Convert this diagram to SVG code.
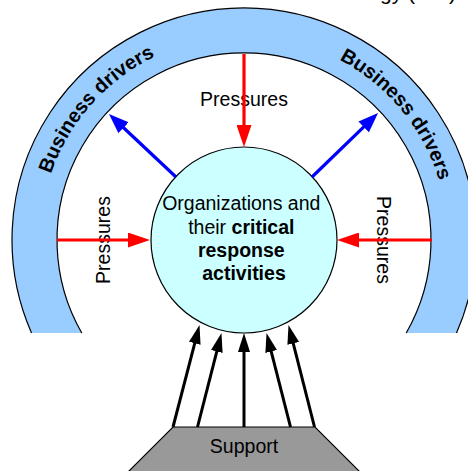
<svg xmlns="http://www.w3.org/2000/svg" width="468" height="471" viewBox="0 0 468 471">
  <defs>
    <style>
      text { font-family: "Liberation Sans", Arial, sans-serif; fill: #000; }
      .lbl { font-size: 19.5px; }
      .b { font-weight: bold; }
      .ring-lbl { font-size: 20px; font-weight: bold; }
      .red { stroke: #FF0000; stroke-width: 3.2; fill: none; }
      .blue { stroke: #0000FF; stroke-width: 3.2; fill: none; }
      .blk { stroke: #000; stroke-width: 3; fill: none; }
      .edge { stroke: #000; stroke-width: 1.2; fill: none; }
    </style>
    <marker id="headRed" markerUnits="userSpaceOnUse" markerWidth="22" markerHeight="15" refX="14" refY="7.5" orient="auto">
      <path d="M0,0 L22,7.5 L0,15 z" fill="#FF0000"/>
    </marker>
    <marker id="headBlue" markerUnits="userSpaceOnUse" markerWidth="20" markerHeight="15" refX="12" refY="7.5" orient="auto">
      <path d="M0,0 L20,7.5 L0,15 z" fill="#0000FF"/>
    </marker>
    <marker id="headBlack" markerUnits="userSpaceOnUse" markerWidth="19" markerHeight="12" refX="11" refY="6" orient="auto">
      <path d="M0,0 L19,6 L0,12 z" fill="#000"/>
    </marker>
    <!-- baselines for the curved ring labels (radius 204 about the ring centre) -->
    <path id="arcLeft" d="M50.5,304.7 A204,204 0 0 1 284.7,40.1"/>
    <path id="arcRight" d="M210.3,38.8 A204,204 0 0 1 435.1,311.4"/>
  </defs>

  <rect width="468" height="471" fill="#fff"/>

  <!-- clipped caption at the top edge -->
  <text x="296" y="0" style="font-size:21px">Technology (ICT)</text>

  <!-- outer ring of business drivers -->
  <g id="ring">
    <path d="M31.5,333 A232,232 0 1 1 456.5,333 L406.2,333 A187,187 0 1 0 81.8,333 Z" fill="#99CCFF"/>
    <path class="edge" d="M31.5,333 A232,232 0 1 1 456.5,333"/>
    <path class="edge" d="M406.2,333 A187,187 0 1 0 81.8,333"/>
    <text class="ring-lbl"><textPath href="#arcLeft" startOffset="50%" text-anchor="middle">Business drivers</textPath></text>
    <text class="ring-lbl"><textPath href="#arcRight" startOffset="50%" text-anchor="middle">Business drivers</textPath></text>
  </g>

  <!-- central organisation node -->
  <g id="core">
    <circle cx="244" cy="240" r="93" fill="#CCFFFF" stroke="#000" stroke-width="1.2"/>
    <text class="lbl" text-anchor="middle">
      <tspan x="244" y="210">Organizations and</tspan>
      <tspan x="244" y="234">their <tspan class="b">critical</tspan></tspan>
      <tspan x="244" y="257" class="b">response</tspan>
      <tspan x="244" y="280" class="b">activities</tspan>
    </text>
  </g>

  <!-- support base -->
  <g id="support">
    <path d="M173,427 L315,427 L363,475 L125,475 Z" fill="#999999" stroke="#000" stroke-width="1.2"/>
    <text class="lbl" x="244" y="453" text-anchor="middle">Support</text>
  </g>

  <!-- pressure labels -->
  <g id="pressure-labels">
    <text class="lbl" x="244" y="106" text-anchor="middle">Pressures</text>
    <text class="lbl" text-anchor="middle" transform="translate(110,240) rotate(-90)">Pressures</text>
    <text class="lbl" text-anchor="middle" transform="translate(377,240) rotate(90)">Pressures</text>
  </g>

  <!-- connectors -->
  <g id="connectors">
    <line class="red" x1="244" y1="54" x2="244" y2="139" marker-end="url(#headRed)"/>
    <line class="red" x1="57" y1="240" x2="142" y2="240" marker-end="url(#headRed)"/>
    <line class="red" x1="432" y1="240" x2="345" y2="240" marker-end="url(#headRed)"/>

    <line class="blue" x1="176" y1="177" x2="114.8" y2="119.5" marker-end="url(#headBlue)"/>
    <line class="blue" x1="312" y1="177" x2="372.3" y2="118.6" marker-end="url(#headBlue)"/>

    <line class="blk" x1="173" y1="427" x2="197.5" y2="332.7" marker-end="url(#headBlack)"/>
    <line class="blk" x1="197.5" y1="427" x2="219.5" y2="340.8" marker-end="url(#headBlack)"/>
    <line class="blk" x1="244" y1="427" x2="244" y2="341" marker-end="url(#headBlack)"/>
    <line class="blk" x1="290.5" y1="427" x2="268.5" y2="340.8" marker-end="url(#headBlack)"/>
    <line class="blk" x1="314.5" y1="427" x2="290.5" y2="332.7" marker-end="url(#headBlack)"/>
  </g>
</svg>
